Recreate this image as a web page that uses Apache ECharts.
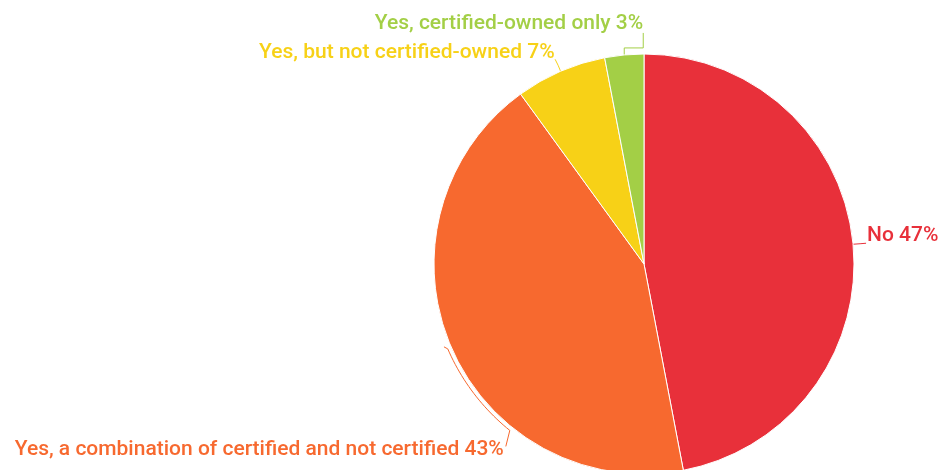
<!DOCTYPE html>
<html>
<head>
<meta charset="utf-8">
<script src="https://cdn.jsdelivr.net/npm/echarts@6/dist/echarts.min.js"></script>
<style>
  html, body { margin: 0; padding: 0; background: #ffffff; }
  #chart { width: 938px; height: 470px; }
</style>
</head>
<body>
<div id="chart"></div>
<script>
// Survey answers and their shares (%)
const categories = [
  'No',
  'Yes, a combination of certified and not certified',
  'Yes, but not certified-owned',
  'Yes, certified-owned only'
];
const shares = [47, 43, 7, 3];
const colors = ['#E8303A', '#F7692F', '#F7D117', '#A3CF46'];

// Pie geometry (pixels)
const CX = 644, CY = 264, R = 210;

const total = shares.reduce((a, b) => a + b, 0);
function fracStart(i) {
  let s = 0;
  for (let k = 0; k < i; k++) s += shares[k];
  return s / total;
}
// Point on a circle around the pie centre; frac measured clockwise from 12 o'clock
function polar(frac, r) {
  const a = frac * 2 * Math.PI;
  return [CX + r * Math.sin(a), CY - r * Math.cos(a)];
}

// Place each label and its leader line relative to the slice it belongs to
function labelLayout(p) {
  const i = p.dataIndex;
  const mid = fracStart(i) + shares[i] / total / 2;
  const e = polar(mid, R);
  if (i === 0) {
    return {
      x: e[0] + 14, y: e[1] - 8, align: 'left', verticalAlign: 'middle',
      labelLinePoints: [e, [e[0] + 7, e[1] - 0.5], [e[0] + 13, e[1] - 1]]
    };
  }
  if (i === 1) {
    // bracket hugging the rim, running back from the slice middle
    const endFrac = 0.608;
    const pts = [polar(mid + 0.0025, R + 6.5)];
    const steps = 24;
    for (let s = 0; s <= steps; s++) {
      const f = mid - (mid - endFrac) * s / steps;
      pts.push(polar(f, R + 3.8));
    }
    const b = pts[pts.length - 1];
    pts.push([b[0] - 4, b[1] + 16]);
    return {
      x: b[0] - 6, y: b[1] + 19, align: 'right', verticalAlign: 'middle',
      labelLinePoints: pts
    };
  }
  if (i === 2) {
    return {
      x: e[0] - 6, y: e[1] - 19, align: 'right', verticalAlign: 'middle',
      labelLinePoints: [e, [e[0] - 2.5, e[1] - 6], [e[0] - 5.5, e[1] - 12]]
    };
  }
  return {
    x: e[0] + 19, y: e[1] - 31, align: 'right', verticalAlign: 'middle',
    labelLinePoints: [e, [e[0], e[1] - 7], [e[0] + 19, e[1] - 7], [e[0] + 19, e[1] - 22]]
  };
}

const chart = echarts.init(document.getElementById('chart'), null, { renderer: 'canvas' });
chart.setOption({
  animation: false,
  backgroundColor: '#ffffff',
  series: [{
    type: 'pie',
    center: [CX, CY],
    radius: [0, R],
    startAngle: 90,
    clockwise: true,
    avoidLabelOverlap: false,
    itemStyle: { borderColor: '#ffffff', borderWidth: 1 },
    label: {
      show: true,
      position: 'outside',
      formatter: '{b} {c}%',
      fontFamily: 'Roboto',
      fontSize: 21,
      fontWeight: 500
    },
    labelLine: { show: true, smooth: false, lineStyle: { width: 1 } },
    labelLayout: labelLayout,
    emphasis: { disabled: true },
    data: categories.map((name, i) => ({
      name: name,
      value: shares[i],
      itemStyle: { color: colors[i] },
      label: { color: colors[i] },
      labelLine: { lineStyle: { color: colors[i] } }
    }))
  }]
});
</script>
</body>
</html>
